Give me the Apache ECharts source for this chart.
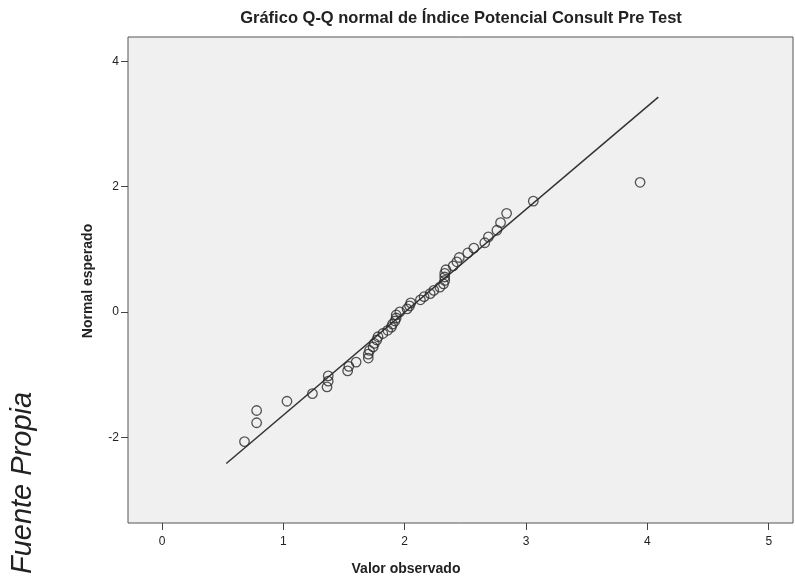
<!DOCTYPE html>
<html>
<head>
<meta charset="utf-8">
<script src="https://cdn.jsdelivr.net/npm/echarts@6/dist/echarts.min.js"></script>
<style>
  html, body { margin: 0; padding: 0; background: #ffffff; }
  #chart { width: 795px; height: 580px; }
</style>
</head>
<body>
<div id="chart"></div>
<script>
// Observed values (sorted) and their expected normal scores
const observed = [
  0.68, 0.78, 0.78, 1.03, 1.24, 1.36, 1.37, 1.37, 1.53, 1.54,
  1.60, 1.70, 1.70, 1.71, 1.74, 1.75, 1.77, 1.78, 1.82, 1.86,
  1.89, 1.90, 1.92, 1.93, 1.93, 1.96, 2.02, 2.04, 2.05, 2.13,
  2.16, 2.21, 2.24, 2.29, 2.32, 2.33, 2.33, 2.33, 2.34, 2.40,
  2.43, 2.45, 2.52, 2.57, 2.66, 2.69, 2.76, 2.79, 2.84, 3.06,
  3.94
];
const expected = [
  -2.070, -1.769, -1.574, -1.426, -1.304, -1.198, -1.105, -1.020, -0.942, -0.869,
  -0.801, -0.736, -0.674, -0.615, -0.558, -0.502, -0.448, -0.396, -0.344, -0.293,
  -0.243, -0.194, -0.145, -0.097, -0.048, 0.000, 0.048, 0.097, 0.145, 0.194,
  0.243, 0.293, 0.344, 0.396, 0.448, 0.502, 0.558, 0.615, 0.674, 0.736,
  0.801, 0.869, 0.942, 1.020, 1.105, 1.198, 1.304, 1.426, 1.574, 1.769,
  2.070
];
// Reference line end points
const refX = [0.53, 4.09];
const refY = [-2.42, 3.43];
// Tick values
const xTicks = [0, 1, 2, 3, 4, 5];
const yTicks = [-2, 0, 2, 4];

const chart = echarts.init(document.getElementById('chart'), null, { renderer: 'canvas' });
const font = 'Arial, "Liberation Sans", sans-serif';
const ink = '#222222';

chart.setOption({
  animation: false,
  backgroundColor: '#ffffff',
  grid: {
    left: 128, top: 37, right: 2, bottom: 57,
    show: true, backgroundColor: '#f0f0f0', borderColor: '#555555', borderWidth: 1
  },
  xAxis: {
    type: 'value', min: -0.28, max: 5.2,
    splitLine: { show: false },
    axisLine: { show: false, onZero: false },
    axisTick: { show: true, customValues: xTicks, length: 7, lineStyle: { color: '#444' } },
    axisLabel: { customValues: xTicks, color: ink, fontFamily: font, fontSize: 12, margin: 13 }
  },
  yAxis: {
    type: 'value', min: -3.37, max: 4.39,
    splitLine: { show: false },
    axisLine: { show: false, onZero: false },
    axisTick: { show: true, customValues: yTicks, length: 7, lineStyle: { color: '#444' } },
    axisLabel: { customValues: yTicks, color: ink, fontFamily: font, fontSize: 12, margin: 9 }
  },
  series: [
    {
      type: 'line',
      data: refX.map((x, i) => [x, refY[i]]),
      symbol: 'none',
      lineStyle: { color: '#333333', width: 1.5 },
      z: 2
    },
    {
      type: 'scatter',
      data: observed.map((x, i) => [x, expected[i]]),
      symbol: 'circle',
      symbolSize: 9.5,
      itemStyle: { color: 'rgba(0,0,0,0)', borderColor: '#2a2a2a', borderWidth: 1.3 },
      z: 3
    }
  ],
  graphic: [
    {
      type: 'text', x: 461, y: 18,
      style: {
        text: 'Gráfico Q-Q normal de Índice Potencial Consult Pre Test',
        font: 'bold 16.5px ' + font, fill: ink, align: 'center', verticalAlign: 'middle'
      }
    },
    {
      type: 'text', x: 406, y: 569,
      style: {
        text: 'Valor observado',
        font: 'bold 14px ' + font, fill: ink, align: 'center', verticalAlign: 'middle'
      }
    },
    {
      type: 'text', x: 88, y: 281, rotation: Math.PI / 2,
      style: {
        text: 'Normal esperado',
        font: 'bold 14px ' + font, fill: ink, align: 'center', verticalAlign: 'middle'
      }
    },
    {
      type: 'text', x: 23, y: 483, rotation: Math.PI / 2,
      style: {
        text: 'Fuente Propia',
        font: 'italic 29px ' + font, fill: '#222222', align: 'center', verticalAlign: 'middle'
      }
    }
  ]
});
</script>
</body>
</html>
